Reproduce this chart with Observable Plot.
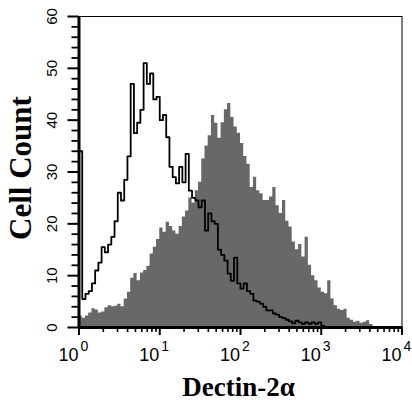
<!DOCTYPE html>
<html><head><meta charset="utf-8">
<script src="https://cdn.jsdelivr.net/npm/d3@7"></script>
<script src="https://cdn.jsdelivr.net/npm/@observablehq/plot@0.6"></script>
<style>body{margin:0;background:#fff}</style>
</head><body><div id="chart"></div>
<script>
// Histogram bins: each bin spans 0.04 decade, starting at 10^0
const binWidthDecades = 0.04;
// Control (open black outline)
const openCounts = [
  34, 5.5, 6.5, 7, 8.5, 11, 12.5, 15.5, 14.5, 16,
  17.5, 20.5, 26, 24.5, 28.5, 33, 47, 37.5, 39.5, 42,
  51, 47, 49, 44, 44.5, 40, 41, 36.7, 31, 29,
  27.8, 31, 28, 33.5, 26.4, 25, 24.5, 23.2, 24.5, 18.7,
  22, 20.5, 20, 15, 14, 12.9, 10.4, 9, 13.5, 8.5,
  7.5, 8.5, 7, 6.5, 5.2, 5, 4.6, 4, 3.3, 3.3,
  2.7, 2.5, 2, 1.8, 1.5, 1.2, 0.8, 1.3, 1, 0.7,
  1, 0.7, 1, 0.7, 1, 0.3, 0, 0, 0, 0,
  0, 0, 0, 0, 0, 0, 0, 0, 0, 0,
  0, 0, 0, 0, 0, 0, 0, 0, 0, 0
];
// Dectin-2 stained (filled grey)
const filledCounts = [
  2.2, 1.8, 2.2, 2.8, 3.6, 3.4, 2.8, 3.0, 3.8, 4.2,
  4.0, 4.1, 4.5, 4.0, 5.5, 6.8, 9.5, 10.4, 9.0, 10.5,
  11, 11.8, 14.2, 15.5, 17, 19.2, 18.4, 20.3, 19.5, 18.6,
  18, 19.5, 21.3, 22.5, 25, 24, 26.4, 28, 32.5, 35,
  37, 40.9, 39.4, 36.5, 39.5, 42, 43.2, 40.5, 38.7, 37.5,
  35.5, 33, 31.5, 27, 29, 26.4, 25.8, 24.5, 24.5, 25.2,
  27, 23.5, 22, 24.5, 20.5, 19.4, 16.5, 15, 16, 13.6,
  17.4, 12, 10, 9, 7.6, 6.8, 6.5, 9, 5.5, 4.2,
  3.5, 3.3, 3.5, 1.8, 1.4, 1.0, 1.2, 0.8, 1.0, 1.3,
  0.6, 0.2, 0, 0, 0, 0, 0, 0, 0, 0
];
const yTickValues = [0, 10, 20, 30, 40, 50, 60];
const yMinorTicks = [2,4,6,8,12,14,16,18,22,24,26,28,32,34,36,38,42,44,46,48,52,54,56,58];
const xTickValues = [1, 10, 100, 1000, 10000];
const xTickBase = "10";
const xTickExponents = ["0", "1", "2", "3", "4"];
const xMinorTicks = [2,3,4,5,6,7,8,9,20,30,40,50,60,70,80,90,200,300,400,500,600,700,800,900,2000,3000,4000,5000,6000,7000,8000,9000];
const yTitle = "Cell Count";
const xTitle = "Dectin-2\u03B1";

function steps(counts) {
  const pts = counts.map((v, i) => ({x: Math.pow(10, i * binWidthDecades), v}));
  pts.push({x: Math.pow(10, counts.length * binWidthDecades), v: counts[counts.length - 1]});
  return pts;
}
const sans = "'Liberation Sans', Arial, Helvetica, sans-serif";
const narrow = "'Liberation Sans Narrow', 'Arial Narrow', 'Liberation Sans', Arial, sans-serif";
const serif = "'Liberation Serif', 'Times New Roman', Times, serif";
const axisColor = "#000";

const chart = Plot.plot({
  width: 412, height: 400, marginLeft: 78.5, marginRight: 10.5, marginTop: 16, marginBottom: 73,
  x: {type: "log", domain: [1, 10000], axis: null, label: null},
  y: {domain: [0, 60], axis: null, label: null},
  style: {fontFamily: sans, background: "#fff", color: "#000"},
  marks: [
    Plot.areaY(steps(filledCounts), {x: "x", y: "v", curve: "step-after", fill: "#686868"}),
    Plot.lineY(steps(openCounts), {x: "x", y: "v", curve: "step-after", stroke: "#000", strokeWidth: 1.8}),
    Plot.frame({stroke: "#000", strokeWidth: 1}),
    Plot.ruleX([1], {stroke: axisColor, strokeWidth: 3}),
    Plot.ruleY([0], {stroke: axisColor, strokeWidth: 3}),
    Plot.axisY(yTickValues, {tickSize: 11, tickFormat: () => "", label: null, stroke: axisColor, strokeWidth: 2}),
    Plot.axisY(yMinorTicks, {tickSize: 7, tickFormat: () => "", label: null, stroke: axisColor, strokeWidth: 1.8}),
    Plot.axisX(xTickValues, {tickSize: 8, tickFormat: () => "", label: null, stroke: axisColor, strokeWidth: 2}),
    Plot.axisX(xMinorTicks, {tickSize: 5, tickFormat: () => "", label: null, stroke: axisColor, strokeWidth: 1.6}),
    Plot.text(yTickValues, {y: d => d, text: d => String(d), frameAnchor: "left", dx: -26.5, rotate: -90,
      textAnchor: "middle", lineAnchor: "middle", fontSize: 15, fontFamily: sans, fill: "#000"}),
    Plot.text(xTickValues, {x: d => d, text: () => xTickBase, frameAnchor: "bottom", dy: 33, dx: -0.5,
      textAnchor: "end", lineAnchor: "bottom", fontSize: 18, fontFamily: narrow, fill: "#000"}),
    Plot.text(xTickValues, {x: d => d, text: (d, i) => xTickExponents[i], frameAnchor: "bottom", dy: 23, dx: 1.5,
      textAnchor: "start", lineAnchor: "bottom", fontSize: 14, fontFamily: sans, fill: "#000"}),
    Plot.text([yTitle], {frameAnchor: "left", dx: -57.5, dy: -4, rotate: -90, textAnchor: "middle", lineAnchor: "middle",
      fontSize: 31, fontWeight: "bold", fontFamily: serif, fill: "#000"}),
    Plot.text([xTitle], {frameAnchor: "bottom", dy: 68, dx: -2, textAnchor: "middle", lineAnchor: "bottom",
      fontSize: 27, fontWeight: "bold", fontFamily: serif, fill: "#000"})
  ]
});
document.getElementById("chart").appendChild(chart);
</script>
</body></html>
